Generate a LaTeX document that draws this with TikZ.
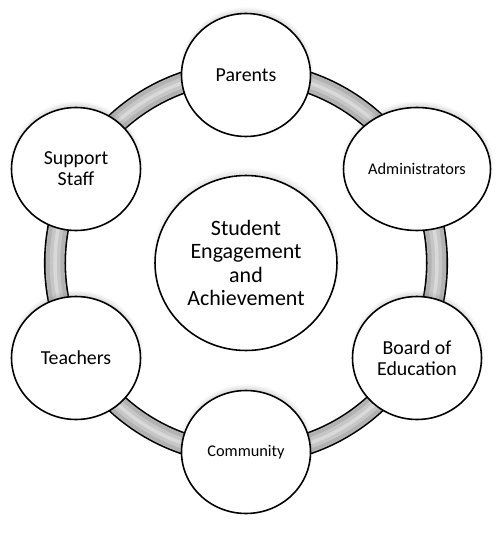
\documentclass[tikz,border=0pt]{standalone}
\usepackage{fontspec}
\setmainfont{Carlito}
\usetikzlibrary{shapes.geometric,shadows}

\begin{document}
\begin{tikzpicture}[x=0.02cm,y=-0.02cm,
    every node/.style={inner sep=1pt,align=center},
    bubble/.style={ellipse,draw,line width=0.9pt,fill=white,
      minimum width=2.58cm,minimum height=2.46cm,
      font=\fontsize{11.3}{12.1}\selectfont,
      circular drop shadow={shadow xshift=0pt,shadow yshift=2.5pt,
        opacity=0.45,shadow scale=1.04}},
    small/.style={font=\fontsize{9.3}{11}\selectfont}]
  \useasboundingbox(0,0)rectangle(500,544);
  % the ring behind the bubbles
  \draw[line width=12.6pt](246,263)circle[radius=191];
  \draw[line width=10.8pt,gray!60](246,263)circle[radius=191];
  \draw[line width=6pt,gray!45](246,263)circle[radius=191];
  \draw[line width=2pt,gray!30](246,263)circle[radius=191];
  % bubbles
  \node[bubble](parents)at(246,75){Parents};
  \node[bubble,small,minimum width=2.94cm](admin)at(417,169){Administrators};
  \node[bubble](board)at(417,358){Board of\\Education};
  \node[bubble,small](community)at(246,452){Community};
  \node[bubble](teachers)at(76,358){Teachers};
  \node[bubble](support)at(76,169){Support\\Staff};
  \node[bubble,minimum width=3.64cm,minimum height=3.5cm,
    font=\fontsize{12.5}{13.3}\selectfont](goal)at(246,263)
    {Student\\Engagement\\and\\Achievement};
\end{tikzpicture}
\end{document}
